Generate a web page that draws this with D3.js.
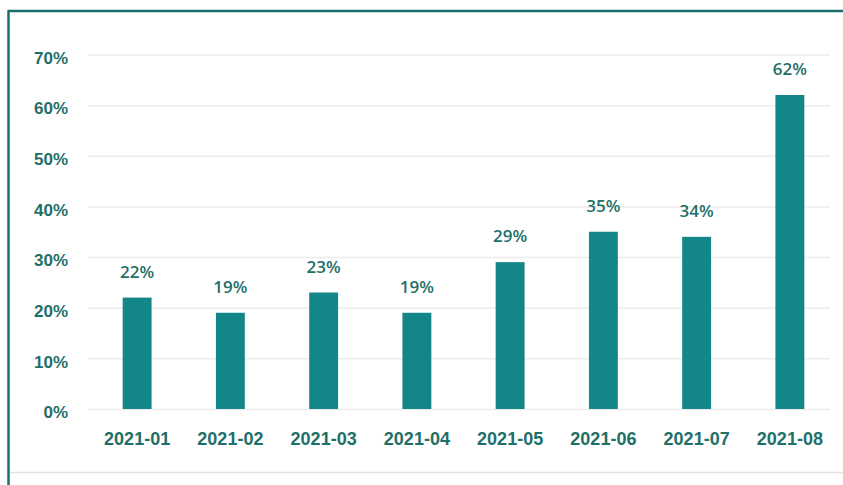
<!DOCTYPE html>
<html>
<head>
<meta charset="utf-8">
<script src="https://cdn.jsdelivr.net/npm/d3@7"></script>
<style>
  body { margin: 0; background: #fff; }
  svg { display: block; font-family: "Open Sans", sans-serif; }
</style>
</head>
<body>
<svg id="chart"></svg>
<script>
// chart data
const months = ["2021-01", "2021-02", "2021-03", "2021-04", "2021-05", "2021-06", "2021-07", "2021-08"]
const shares = [22, 19, 23, 19, 29, 35, 34, 62]
const yTicks = [0, 10, 20, 30, 40, 50, 60, 70]

const width = 843
const height = 485
const textColor = "#1f6f69"
const barColor = "#138689"

const svg = d3.select("#chart")
  .attr("width", width)
  .attr("height", height)

// frame: teal top + left, light grey bottom
svg.append("line")
  .attr("x1", 8).attr("x2", width).attr("y1", 11).attr("y2", 11)
  .attr("stroke", "#17706c").attr("stroke-width", 2.5)
svg.append("line")
  .attr("x1", 8.5).attr("x2", 8.5).attr("y1", 10).attr("y2", height)
  .attr("stroke", "#17706c").attr("stroke-width", 2.5)
svg.append("line")
  .attr("x1", 10).attr("x2", width).attr("y1", 472.5).attr("y2", 472.5)
  .attr("stroke", "#e2e2e2").attr("stroke-width", 1.5)

let x = d3.scaleBand()
  .domain(months)
  .range([90.5, 836.5])
  .paddingInner(0.69)
  .paddingOuter(0.345)

let y = d3.scaleLinear()
  .domain([0, 70])
  .range([409, 54.5])

// y axis with grid lines
svg.append("g")
  .attr("transform", "translate(88, 0)")
  .call(d3.axisLeft(y).tickValues(yTicks).tickFormat(d => d + "%").tickSize(0).tickPadding(20))
  .call(g => g.select(".domain").remove())
  .call(g => g.selectAll(".tick line")
    .attr("x2", 742)
    .attr("stroke", "#ececec")
    .attr("stroke-width", 1.5))
  .call(g => g.selectAll(".tick text")
    .attr("fill", textColor)
    .attr("font-size", 17)
    .attr("font-weight", 600)
    .attr("dy", "0.52em"))

// bars
svg.append("g")
  .selectAll("rect")
  .data(shares)
  .enter()
  .append("rect")
  .attr("x", (d, i) => x(months[i]))
  .attr("y", d => y(d))
  .attr("width", x.bandwidth())
  .attr("height", d => y(0) - y(d))
  .attr("fill", barColor)

// value labels
svg.append("g")
  .selectAll("text")
  .data(shares)
  .enter()
  .append("text")
  .attr("x", (d, i) => x(months[i]) + x.bandwidth() / 2)
  .attr("y", d => y(d) - 20)
  .attr("text-anchor", "middle")
  .attr("fill", textColor)
  .attr("font-size", 17)
  .attr("font-weight", 600)
  .text(d => d + "%")

// x axis labels
svg.append("g")
  .attr("transform", "translate(0, 409)")
  .call(d3.axisBottom(x).tickSize(0).tickPadding(23))
  .call(g => g.select(".domain").remove())
  .call(g => g.selectAll(".tick text")
    .attr("fill", textColor)
    .attr("font-size", 18)
    .attr("font-weight", 600))
</script>
</body>
</html>
